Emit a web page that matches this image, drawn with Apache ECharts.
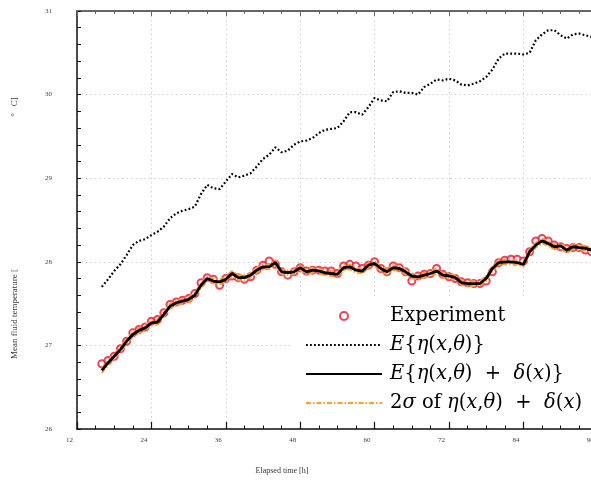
<!DOCTYPE html>
<html><head><meta charset="utf-8">
<script src="https://cdn.jsdelivr.net/npm/echarts@6/dist/echarts.min.js"></script>
<style>html,body{margin:0;padding:0;background:#fff}#c{width:591px;height:482px}</style>
</head><body><div id="c"></div>
<script>
const hours = [16,17,18,19,20,21,22,23,24,25,26,27,28,29,30,31,32,33,34,35,36,37,38,39,40,41,42,43,44,45,46,47,48,49,50,51,52,53,54,55,56,57,58,59,60,61,62,63,64,65,66,67,68,69,70,71,72,73,74,75,76,77,78,79,80,81,82,83,84,85,86,87,88,89,90,91,92,93,94,95,96];
const experiment = [26.78,26.82,26.87,26.96,27.05,27.15,27.19,27.22,27.29,27.31,
  27.39,27.49,27.52,27.54,27.56,27.62,27.75,27.81,27.79,27.72,
  27.80,27.83,27.81,27.79,27.82,27.90,27.96,28.01,27.97,27.88,
  27.84,27.88,27.93,27.89,27.90,27.90,27.89,27.89,27.86,27.95,
  27.97,27.95,27.92,27.96,28.00,27.92,27.88,27.95,27.93,27.88,
  27.77,27.83,27.85,27.86,27.92,27.85,27.82,27.80,27.76,27.75,
  27.74,27.74,27.77,27.88,27.99,28.02,28.03,28.03,28.01,28.12,
  28.25,28.28,28.25,28.20,28.18,28.16,28.17,28.17,28.14,28.12,28.11];
const modelMean = [26.70,26.79,26.87,26.95,27.05,27.13,27.18,27.21,27.27,27.28,
  27.37,27.47,27.51,27.53,27.55,27.60,27.72,27.80,27.77,27.76,
  27.79,27.86,27.81,27.81,27.84,27.90,27.94,27.94,27.99,27.88,
  27.87,27.88,27.93,27.88,27.90,27.89,27.87,27.86,27.85,27.93,
  27.94,27.90,27.89,27.96,27.98,27.92,27.88,27.93,27.92,27.88,
  27.83,27.82,27.84,27.86,27.89,27.84,27.83,27.81,27.75,27.74,
  27.74,27.74,27.80,27.92,27.99,28.00,28.00,27.99,27.97,28.12,
  28.20,28.25,28.22,28.18,28.19,28.14,28.18,28.17,28.16,28.14,28.13];
const bandUpper = [26.73,26.82,26.90,26.98,27.08,27.16,27.21,27.24,27.30,27.31,
  27.40,27.50,27.54,27.56,27.58,27.63,27.75,27.83,27.80,27.79,
  27.82,27.89,27.84,27.84,27.87,27.93,27.97,27.97,28.02,27.91,
  27.90,27.91,27.96,27.91,27.93,27.92,27.90,27.89,27.88,27.96,
  27.97,27.93,27.92,27.99,28.01,27.95,27.91,27.96,27.95,27.91,
  27.86,27.85,27.87,27.89,27.92,27.87,27.86,27.84,27.78,27.77,
  27.77,27.77,27.83,27.95,28.02,28.03,28.03,28.02,28.00,28.15,
  28.23,28.28,28.25,28.21,28.22,28.17,28.21,28.20,28.19,28.17,28.16];
const bandLower = [26.67,26.76,26.84,26.92,27.02,27.10,27.15,27.18,27.24,27.25,
  27.34,27.44,27.48,27.50,27.52,27.57,27.69,27.77,27.74,27.73,
  27.76,27.83,27.78,27.78,27.81,27.87,27.91,27.91,27.96,27.85,
  27.84,27.85,27.90,27.85,27.87,27.86,27.84,27.83,27.82,27.90,
  27.91,27.87,27.86,27.93,27.95,27.89,27.85,27.90,27.89,27.85,
  27.80,27.79,27.81,27.83,27.86,27.81,27.80,27.78,27.72,27.71,
  27.71,27.71,27.77,27.89,27.96,27.97,27.97,27.96,27.94,28.09,
  28.17,28.22,28.19,28.15,28.16,28.11,28.15,28.14,28.13,28.11,28.10];
const priorMean = [27.70,27.79,27.89,27.97,28.08,28.20,28.25,28.27,28.32,28.36,
  28.42,28.52,28.58,28.61,28.63,28.66,28.81,28.92,28.88,28.87,
  28.96,29.05,29.01,29.03,29.06,29.14,29.23,29.28,29.37,29.31,
  29.33,29.40,29.44,29.45,29.48,29.54,29.58,29.59,29.60,29.68,
  29.79,29.79,29.76,29.85,29.96,29.93,29.92,30.03,30.04,30.02,
  30.02,30.00,30.09,30.13,30.18,30.17,30.19,30.17,30.12,30.11,
  30.13,30.16,30.21,30.30,30.43,30.49,30.49,30.49,30.48,30.50,
  30.65,30.72,30.77,30.77,30.71,30.67,30.72,30.73,30.71,30.69,30.68];

const NAME_EXP = 'Experiment';
const NAME_PRIOR = 'E{η(x,θ)}';
const NAME_POST = 'E{η(x,θ) + δ(x)}';
const NAME_BAND = '2σ of η(x,θ) + δ(x)';
const legendRich = {};
legendRich[NAME_EXP] = 'Experiment';
legendRich[NAME_PRIOR] = '{i|E}{{i|η}({i|x},{i|θ})}';
legendRich[NAME_POST] = '{i|E}{{i|η}({i|x},{i|θ})  +  {i|δ}({i|x})}';
legendRich[NAME_BAND] = '2{i|σ} of {i|η}({i|x},{i|θ})  +  {i|δ}({i|x})';

const pairs = arr => hours.map((h, i) => [h, arr[i]]);
const serif = 'Liberation Serif';
const legendFont = 'DejaVu Serif';
const noMark = {opacity: 0};

const chart = echarts.init(document.getElementById('c'), null, {renderer: 'canvas'});
const gridLine = {show: true, lineStyle: {color: '#cfcfcf', type: [1.5, 3], width: 1}};
chart.setOption({
  animation: false,
  backgroundColor: '#fff',
  grid: {left: 77, top: 11, right: -81.2, height: 418, containLabel: false, outerBoundsMode: 'none'},
  xAxis: [{
    type: 'value', min: 12, max: 108, interval: 12, position: 'bottom',
    axisLine: {show: true, lineStyle: {color: '#111', width: 1.5}},
    axisTick: {show: true, inside: true, length: 7, lineStyle: {color: '#111', width: 1.2}},
    minorTick: {show: true, splitNumber: 4, length: 3.5, lineStyle: {color: '#111', width: 1}},
    axisLabel: {show: true, fontFamily: serif, fontSize: 7, color: '#444', margin: 8, padding: [0, 15, 0, 0], hideOverlap: false},
    splitLine: gridLine
  }, {
    type: 'value', min: 12, max: 108, interval: 12, position: 'top',
    axisLine: {show: true, lineStyle: {color: '#666', width: 2}},
    axisTick: {show: true, inside: true, length: 5, lineStyle: {color: '#666', width: 1}},
    minorTick: {show: true, splitNumber: 4, length: 3, lineStyle: {color: '#666', width: 1}},
    axisLabel: {show: false}, splitLine: {show: false}
  }],
  yAxis: {
    type: 'value', min: 26, max: 31, interval: 1, position: 'left',
    axisLine: {show: true, lineStyle: {color: '#111', width: 1.5}},
    axisTick: {show: true, inside: true, length: 4, lineStyle: {color: '#111', width: 1}},
    minorTick: {show: true, splitNumber: 5, length: 4, lineStyle: {color: '#111', width: 1}},
    axisLabel: {show: true, fontFamily: serif, fontSize: 7, color: '#444', margin: 25, padding: [0, 0, 17, 0]},
    splitLine: gridLine
  },
  legend: {
    orient: 'vertical', left: 291, top: 296,
    padding: [8, 20, 6, 14],
    backgroundColor: '#fff',
    itemWidth: 76, itemHeight: 8, itemGap: 5,
    data: [NAME_EXP,
      {name: NAME_PRIOR, itemStyle: noMark},
      {name: NAME_POST, itemStyle: noMark},
      {name: NAME_BAND, itemStyle: noMark}],
    formatter: n => legendRich[n],
    textStyle: {
      fontFamily: legendFont, fontSize: 19.5, color: '#000', lineHeight: 24, padding: [0, 0, 0, 3],
      rich: {i: {fontFamily: legendFont, fontSize: 19.5, fontStyle: 'italic', color: '#000', lineHeight: 24}}
    }
  },
  graphic: [
    {type: 'text', x: 282, y: 471, style: {text: 'Elapsed time [h]', font: '8px "Liberation Serif"', fill: '#333', align: 'center', verticalAlign: 'middle'}},
    {type: 'text', x: 15, y: 314, rotation: Math.PI / 2, style: {text: 'Mean fluid temperature [', font: '9px "Liberation Serif"', fill: '#333', align: 'center', verticalAlign: 'middle'}},
    {type: 'text', x: 15, y: 107, rotation: Math.PI / 2, style: {text: '°   C]', font: '9px "Liberation Serif"', fill: '#333', align: 'center', verticalAlign: 'middle'}}
  ],
  series: [
    {name: NAME_EXP, type: 'scatter', data: pairs(experiment), symbol: 'emptyCircle', symbolSize: 7,
      itemStyle: {color: '#ee1133', borderColor: '#ee1133', borderWidth: 2}, z: 2},
    {name: NAME_PRIOR, type: 'line', data: pairs(priorMean), showSymbol: false,
      lineStyle: {color: '#000', width: 2.2, type: [1.8, 2.2]}, itemStyle: {color: '#000'}, z: 3},
    {name: NAME_BAND, type: 'line', data: pairs(bandUpper), showSymbol: false,
      lineStyle: {color: '#f5a031', width: 1.8, type: [5, 2, 1.5, 2]}, itemStyle: {color: '#f5a031'}, z: 3},
    {name: NAME_BAND, type: 'line', data: pairs(bandLower), showSymbol: false,
      lineStyle: {color: '#f5a031', width: 1.8, type: [5, 2, 1.5, 2]}, itemStyle: {color: '#f5a031'}, z: 3},
    {name: NAME_POST, type: 'line', data: pairs(modelMean), showSymbol: false,
      lineStyle: {color: '#000', width: 2.8}, itemStyle: {color: '#000'}, z: 4}
  ]
});
</script></body></html>
